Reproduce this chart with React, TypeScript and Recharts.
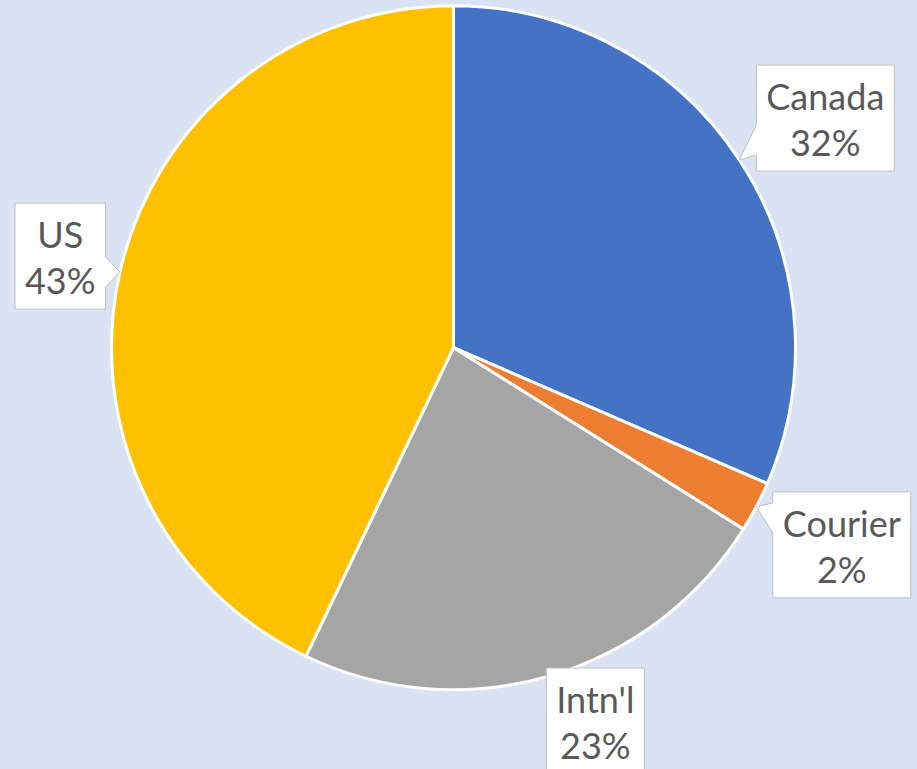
import React from 'react';
import { Cell, Pie, PieChart } from 'recharts';

const categories = ['Canada', 'Courier', "Intn'l", 'US'];
const shares = [31.5, 2.4, 23.2, 42.9];
const sliceColors = ['#4472C4', '#ED7D31', '#A5A5A5', '#FFC000'];

const WIDTH = 917;
const HEIGHT = 769;
const CX = 453.5;
const CY = 347.7;
const RADIUS = 342;
const FONT = '36px Lato';
const RAD = Math.PI / 180;

// where Excel dropped each callout, relative to the slice middle
const labelNudge: Record<string, { dr: number; da: number }> = {
  Canada: { dr: 95, da: -1.6 },
  Courier: { dr: 93.5, da: 0.8 },
  "Intn'l": { dr: 57.4, da: 4.6 },
  US: { dr: 64, da: -0.25 }
};

const data = categories.map((name, i) => ({ name, value: shares[i] }));

let ctx: CanvasRenderingContext2D | null = null;
const textWidth = (text: string) => {
  if (!ctx) ctx = document.createElement('canvas').getContext('2d');
  if (!ctx) return text.length * 18;
  ctx.font = FONT;
  return ctx.measureText(text).width;
};

const clamp = (v: number, lo: number, hi: number) => Math.min(Math.max(v, lo), hi);

function calloutPath(x: number, y: number, w: number, h: number, tx: number, ty: number) {
  const half = 15;
  const inside = tx >= x && tx <= x + w && ty >= y && ty <= y + h;
  if (inside) return `M${x},${y}H${x + w}V${y + h}H${x}Z`;
  if (tx < x || tx > x + w) {
    const c = clamp(ty, y + 26, y + h - 31);
    const b1 = c - half;
    const b2 = c + half;
    if (tx < x) return `M${x},${y}H${x + w}V${y + h}H${x}V${b2}L${tx},${ty}L${x},${b1}Z`;
    return `M${x},${y}H${x + w}V${b1}L${tx},${ty}L${x + w},${b2}V${y + h}H${x}Z`;
  }
  const c = clamp(tx, x + 26, x + w - 26);
  const b1 = c - half;
  const b2 = c + half;
  if (ty < y) return `M${x},${y}H${b1}L${tx},${ty}L${b2},${y}H${x + w}V${y + h}H${x}Z`;
  return `M${x},${y}H${x + w}V${y + h}H${b2}L${tx},${ty}L${b1},${y + h}H${x}Z`;
}

function CalloutLabel(props: any) {
  const { midAngle, percent, name } = props;
  const nudge = labelNudge[name] ?? { dr: 80, da: 0 };
  const angle = midAngle + nudge.da;
  const r = RADIUS + nudge.dr;
  const bx = CX + r * Math.cos(-angle * RAD);
  const by = CY + r * Math.sin(-angle * RAD);
  const pct = `${Math.round(percent * 100)}%`;
  const w = Math.max(textWidth(name), textWidth(pct)) + 20;
  const h = 106;
  const x = clamp(bx - w / 2, 15, WIDTH - w - 6);
  const y = by - h / 2;
  const tx = CX + RADIUS * Math.cos(-midAngle * RAD);
  const ty = CY + RADIUS * Math.sin(-midAngle * RAD);

  return (
    <g>
      <path d={calloutPath(x, y, w, h, tx, ty)} fill="#FFFFFF" stroke="#BFBFBF" strokeWidth={1} />
      <text
        x={x + w / 2}
        textAnchor="middle"
        fill="#595959"
        style={{ font: FONT }}
      >
        <tspan x={x + w / 2} y={y + 45}>{name}</tspan>
        <tspan x={x + w / 2} y={y + 91}>{pct}</tspan>
      </text>
    </g>
  );
}

export default function App() {
  return (
    <div style={{ position: 'fixed', left: 0, top: 0, width: WIDTH, height: HEIGHT, background: '#DAE3F3' }}>
      <PieChart width={WIDTH} height={HEIGHT} margin={{ top: 0, right: 0, bottom: 0, left: 0 }}>
        <Pie
          data={data}
          dataKey="value"
          nameKey="name"
          cx={CX}
          cy={CY}
          innerRadius={0}
          outerRadius={RADIUS}
          startAngle={90}
          endAngle={-270}
          stroke="#FFFFFF"
          strokeWidth={3}
          labelLine={false}
          label={CalloutLabel}
          isAnimationActive={false}
        >
          {data.map((d, i) => (
            <Cell key={d.name} fill={sliceColors[i]} />
          ))}
        </Pie>
      </PieChart>
    </div>
  );
}
